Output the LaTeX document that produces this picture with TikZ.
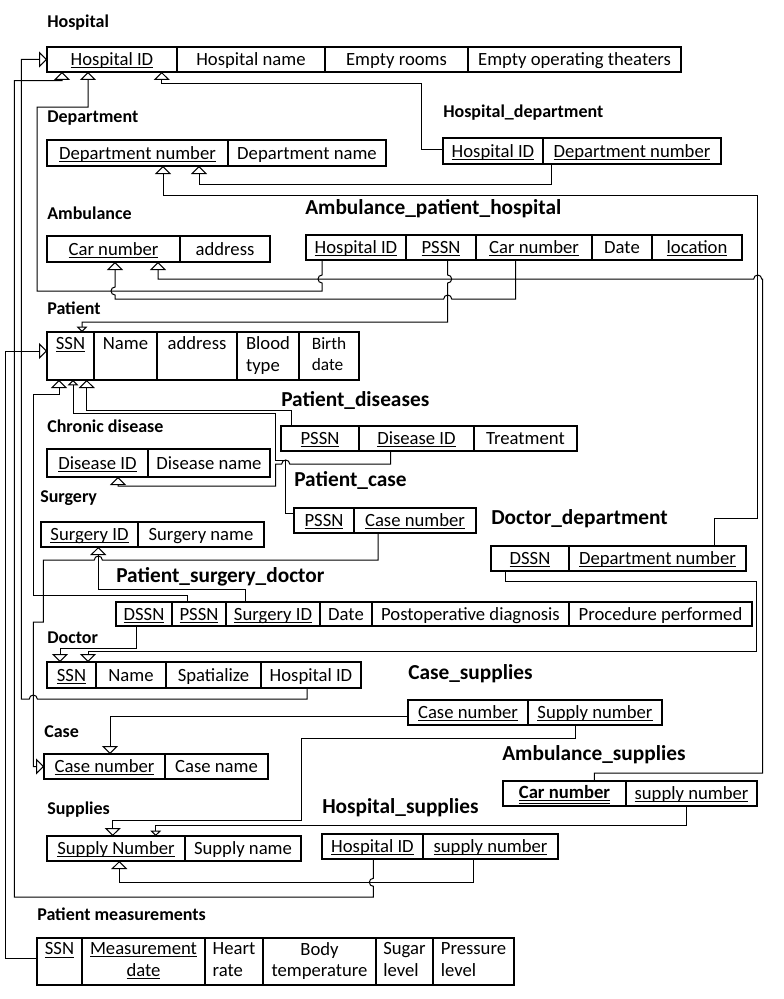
\documentclass[tikz,border=0pt]{standalone}
\usepackage{fontspec}
\setmainfont{Carlito}
\usetikzlibrary{arrows.meta,positioning}
\newcommand\ukey[1]{\vphantom{#1}\underline{\smash{#1}}}
\newcommand\cstrut{\rule[-3pt]{0pt}{15pt}}

\begin{document}
\begin{tikzpicture}[x=0.75pt, y=-0.75pt,
    node distance=0pt,
    cell/.style={draw, line width=1.5pt, inner sep=1pt, outer sep=0pt, align=center,
                 font=\fontsize{14}{16}\selectfont, execute at begin node=\cstrut},
    cw/.style={minimum width=#1*0.75pt},
    ch/.style={minimum height=#1*0.75pt},
    tbl/.style={anchor=west, inner sep=0pt, font=\bfseries\fontsize{13.5}{16}\selectfont},
    bigtbl/.style={tbl, font=\bfseries\fontsize{16}{19}\selectfont},
    fk/.style={line width=0.75pt, -{Triangle[open, length=6pt, width=12pt]}},
    fks/.style={line width=0.75pt, -{Triangle[open, length=4pt, width=8pt]}}
  ]
  \fill[white] (0,0) rectangle (784,999);
  \useasboundingbox (0,0) rectangle (784,999);

  % Hospital
  \node[tbl] (t-hosp) at (47,23) {Hospital};
  \node[cell, ch=25, cw=130, anchor=north west] (hid) at (47,47) {\ukey{Hospital ID}};
  \node[cell, ch=25, cw=148, right=of hid] (hname) {Hospital name};
  \node[cell, ch=25, cw=143, right=of hname] (hrooms) {Empty rooms};
  \node[cell, ch=25, cw=213, right=of hrooms] (htheat) {Empty operating theaters};

  % Department
  \node[tbl] (t-dep) at (47,118) {Department};
  \node[cell, ch=26, cw=181, anchor=north west] (dnum) at (47,140) {\ukey{Department number}};
  \node[cell, ch=26, cw=158, right=of dnum] (dname) {Department name};

  % Hospital_department
  \node[tbl] (t-hd) at (443,113) {Hospital\_department};
  \node[cell, ch=26, cw=100, anchor=north west] (hdh) at (443,138) {\ukey{Hospital ID}};
  \node[cell, ch=26, cw=178, right=of hdh] (hdd) {\ukey{Department number}};

  % Ambulance
  \node[tbl] (t-amb) at (47,213) {Ambulance};
  \node[cell, ch=26, cw=133, anchor=north west] (acar) at (47,236) {\ukey{Car number}};
  \node[cell, ch=26, cw=90, right=of acar] (aaddr) {address};

  % Ambulance_patient_hospital
  \node[bigtbl] (t-aph) at (305,209) {Ambulance\_patient\_hospital};
  \node[cell, ch=25, cw=100, anchor=north west] (aphh) at (306,235) {\ukey{Hospital ID}};
  \node[cell, ch=25, cw=70, right=of aphh] (aphp) {\ukey{PSSN}};
  \node[cell, ch=25, cw=116, right=of aphp] (aphc) {\ukey{Car number}};
  \node[cell, ch=25, cw=60, right=of aphc] (aphd) {Date};
  \node[cell, ch=25, cw=90, right=of aphd] (aphl) {\ukey{location}};

  % Patient
  \node[tbl] (t-pat) at (47,308) {Patient};
  \node[cell, ch=48, cw=47, anchor=north west] (pssn) at (47,332) {\ukey{SSN}\\\mbox{}};
  \node[cell, ch=48, cw=63, right=of pssn] (pname) {Name\\\mbox{}};
  \node[cell, ch=48, cw=80, right=of pname] (paddr) {address\\\mbox{}};
  \node[cell, ch=48, cw=62, right=of paddr, align=left] (pblood) {Blood\\type};
  \node[cell, ch=48, cw=60, right=of pblood, align=left, font=\fontsize{13}{16}\selectfont] (pbirth) {Birth\\date};

  % Patient_diseases
  \node[bigtbl] (t-pd) at (281,400) {Patient\_diseases};
  \node[cell, ch=25, cw=78, anchor=north west] (pdp) at (281,426) {\ukey{PSSN}};
  \node[cell, ch=25, cw=115, right=of pdp] (pdd) {\ukey{Disease ID}};
  \node[cell, ch=25, cw=103, right=of pdd] (pdt) {Treatment};

  % Chronic disease
  \node[tbl] (t-cd) at (47,426) {Chronic disease};
  \node[cell, ch=28, cw=101, anchor=north west] (cdid) at (47,449) {\ukey{Disease ID}};
  \node[cell, ch=28, cw=122, right=of cdid] (cdname) {Disease name};

  % Patient_case
  \node[bigtbl] (t-pc) at (294,480) {Patient\_case};
  \node[cell, ch=25, cw=60, anchor=north west] (pcp) at (294,508) {\ukey{PSSN}};
  \node[cell, ch=25, cw=122, right=of pcp] (pcc) {\ukey{Case number}};

  % Surgery
  \node[tbl] (t-sur) at (40,498) {Surgery};
  \node[cell, ch=25, cw=97, anchor=north west] (sid) at (41,522) {\ukey{Surgery ID}};
  \node[cell, ch=25, cw=126, right=of sid] (sname) {Surgery name};

  % Doctor_department
  \node[bigtbl] (t-dd) at (491,519) {Doctor\_department};
  \node[cell, ch=25, cw=78, anchor=north west] (ddssn) at (491,546) {\ukey{DSSN}};
  \node[cell, ch=25, cw=177, right=of ddssn] (dddn) {\ukey{Department number}};

  % Patient_surgery_doctor
  \node[bigtbl] (t-psd) at (116,577) {Patient\_surgery\_doctor};
  \node[cell, ch=24, cw=56, anchor=north west] (psdd) at (116,602) {\ukey{DSSN}};
  \node[cell, ch=24, cw=54, right=of psdd] (psdp) {\ukey{PSSN}};
  \node[cell, ch=24, cw=94, right=of psdp] (psds) {\ukey{Surgery ID}};
  \node[cell, ch=24, cw=52, right=of psds] (psddate) {Date};
  \node[cell, ch=24, cw=197, right=of psddate] (psdpost) {Postoperative diagnosis};
  \node[cell, ch=24, cw=183, right=of psdpost] (psdproc) {Procedure performed};

  % Doctor
  \node[tbl] (t-doc) at (47,638) {Doctor};
  \node[cell, ch=26, cw=49, anchor=north west] (dssn) at (47,662) {\ukey{SSN}};
  \node[cell, ch=26, cw=70, right=of dssn] (dname) {Name};
  \node[cell, ch=26, cw=95, right=of dname] (dspec) {Spatialize};
  \node[cell, ch=26, cw=100, right=of dspec] (dhid) {Hospital ID};

  % Case_supplies
  \node[bigtbl] (t-cs) at (408,674) {Case\_supplies};
  \node[cell, ch=25, cw=120, anchor=north west] (csc) at (408,700) {\ukey{Case number}};
  \node[cell, ch=25, cw=134, right=of csc] (css) {\ukey{Supply number}};

  % Case
  \node[tbl] (t-case) at (44,732) {Case};
  \node[cell, ch=25, cw=121, anchor=north west] (ccn) at (44,754) {\ukey{Case number}};
  \node[cell, ch=25, cw=103, right=of ccn] (ccname) {Case name};

  % Ambulance_supplies
  \node[bigtbl] (t-as) at (502,755) {Ambulance\_supplies};
  \node[cell, ch=25, cw=123, anchor=north west] (ascar) at (503,781) {\underline{\ukey{\textbf{Car number}}}};
  \node[cell, ch=25, cw=131, right=of ascar] (assup) {\ukey{supply number}};

  % Supplies
  \node[tbl] (t-sup) at (47,810) {Supplies};
  \node[cell, ch=25, cw=138, anchor=north west] (sup) at (47,836) {\ukey{Supply Number}};
  \node[cell, ch=25, cw=116, right=of sup] (supname) {Supply name};

  % Hospital_supplies
  \node[bigtbl] (t-hs) at (322,808) {Hospital\_supplies};
  \node[cell, ch=25, cw=101, anchor=north west] (hsh) at (322,834) {\ukey{Hospital ID}};
  \node[cell, ch=25, cw=135, right=of hsh] (hss) {\ukey{supply number}};

  % Patient measurements
  \node[tbl] (t-pm) at (37,914) {Patient measurements};
  \node[cell, ch=47, cw=45, anchor=north west] (pmssn) at (37,938) {\ukey{SSN}\\\mbox{}};
  \node[cell, ch=47, cw=123, right=of pmssn] (pmdate) {\ukey{Measurement}\\\ukey{date}};
  \node[cell, ch=47, cw=58, right=of pmdate, align=left] (pmheart) {Heart\\rate};
  \node[cell, ch=47, cw=113, right=of pmheart] (pmbody) {Body\\temperature};
  \node[cell, ch=47, cw=57, right=of pmbody, align=left] (pmsugar) {Sugar\\level};
  \node[cell, ch=47, cw=81, right=of pmsugar, align=left] (pmpress) {Pressure\\level};

  % references to Hospital
  \draw[fk] (hdh.west |- 0,149) -| (421.7,84) -| (161.7,0 |- hid.south);
  \draw[fk] (322,0 |- aphh.south) -- (322,275) arc[start angle=90, end angle=270, radius=3pt]
    -- (322,291) -| (37,107) -| (88,0 |- hid.south);
  \draw[fk] (373.3,0 |- hsh.south) -- (373.3,878.3) arc[start angle=90, end angle=270, radius=3pt]
    -- (373.3,897) -| (14.3,80.7) -| (62,0 |- hid.south);
  \draw[fk] (307,0 |- dhid.south) |- (37.3,699) arc[start angle=0, end angle=180, radius=3pt]
    -- (21.3,699) |- (hid.west);

  % references to Department
  \draw[fk] (551.7,0 |- hdd.south) |- (199,184) -- (199,0 |- dnum.south);
  \draw[fk] (714.3,0 |- dddn.north) |- (757.7,518) |- (163,195) -- (163,0 |- dnum.south);

  % references to Ambulance
  \draw[fk] (594.3,0 |- ascar.north) |- (762.7,773) -- (762.7,279) -- (761.7,279)
    arc[start angle=0, end angle=180, radius=3pt] -- (158,279) -- (158,0 |- acar.south);
  \draw[fk] (515.7,0 |- aphc.south) |- (451.7,299) arc[start angle=0, end angle=180, radius=3pt]
    -- (115,299) -- (115,295) arc[start angle=270, end angle=90, radius=3pt] -- (115,0 |- acar.south);

  % references to Patient
  \draw[fks] (447.7,0 |- aphp.south) -- (447.7,275) arc[start angle=90, end angle=-90, radius=3pt]
    -- (447.7,322) -| (82,0 |- pssn.north);
  \draw[fk] (pmssn.west |- 0,958) -| (5,351) -- (pssn.west |- 0,351);
  \draw[fk] (187.7,0 |- psdp.north) |- (33.3,595) |- (59,394.3) -- (59,0 |- pssn.south);
  \draw[fk] (291,0 |- pdp.north) |- (86.7,410.7) -- (86.7,0 |- pssn.south);
  \draw[fks] (pcp.west |- 0,513) -| (285.7,460) -| (275.7,413.3) -| (73,0 |- pssn.south);

  % references to Chronic disease and Surgery
  \draw[fk] (390.7,0 |- pdd.south) |- (289.7,464) arc[start angle=0, end angle=180, radius=3pt]
    -- (275.7,464) |- (118,486) -- (118,0 |- cdid.south);
  \draw[fk] (245,0 |- psds.north) |- (98.3,589) -- (98.3,0 |- sid.south);

  % references to Doctor
  \draw[fk] (505.7,0 |- ddssn.south) |- (756.7,581.7) |- (88,651) -- (88,0 |- dssn.north);
  \draw[fk] (136.7,0 |- psdd.south) |- (60,648.3) -- (60,0 |- dssn.north);

  % references to Case
  \draw[fk] (378,0 |- pcc.south) |- (102.3,560) arc[start angle=0, end angle=180, radius=3pt]
    -- (43.3,560) |- (33.3,622) |- (ccn.west);
  \draw[fk] (csc.west |- 0,716.7) -| (110,0 |- ccn.north);

  % references to Supplies
  \draw[fk] (575.7,0 |- css.south) |- (301.7,738.3) |- (112.7,820) -- (112.7,0 |- sup.north);
  \draw[fks] (686.7,0 |- assup.south) |- (155.7,825.7) -- (155.7,0 |- sup.north);
  \draw[fk] (473.3,0 |- hss.south) |- (119.3,882.3) -- (119.3,0 |- sup.south);
\end{tikzpicture}
\end{document}
